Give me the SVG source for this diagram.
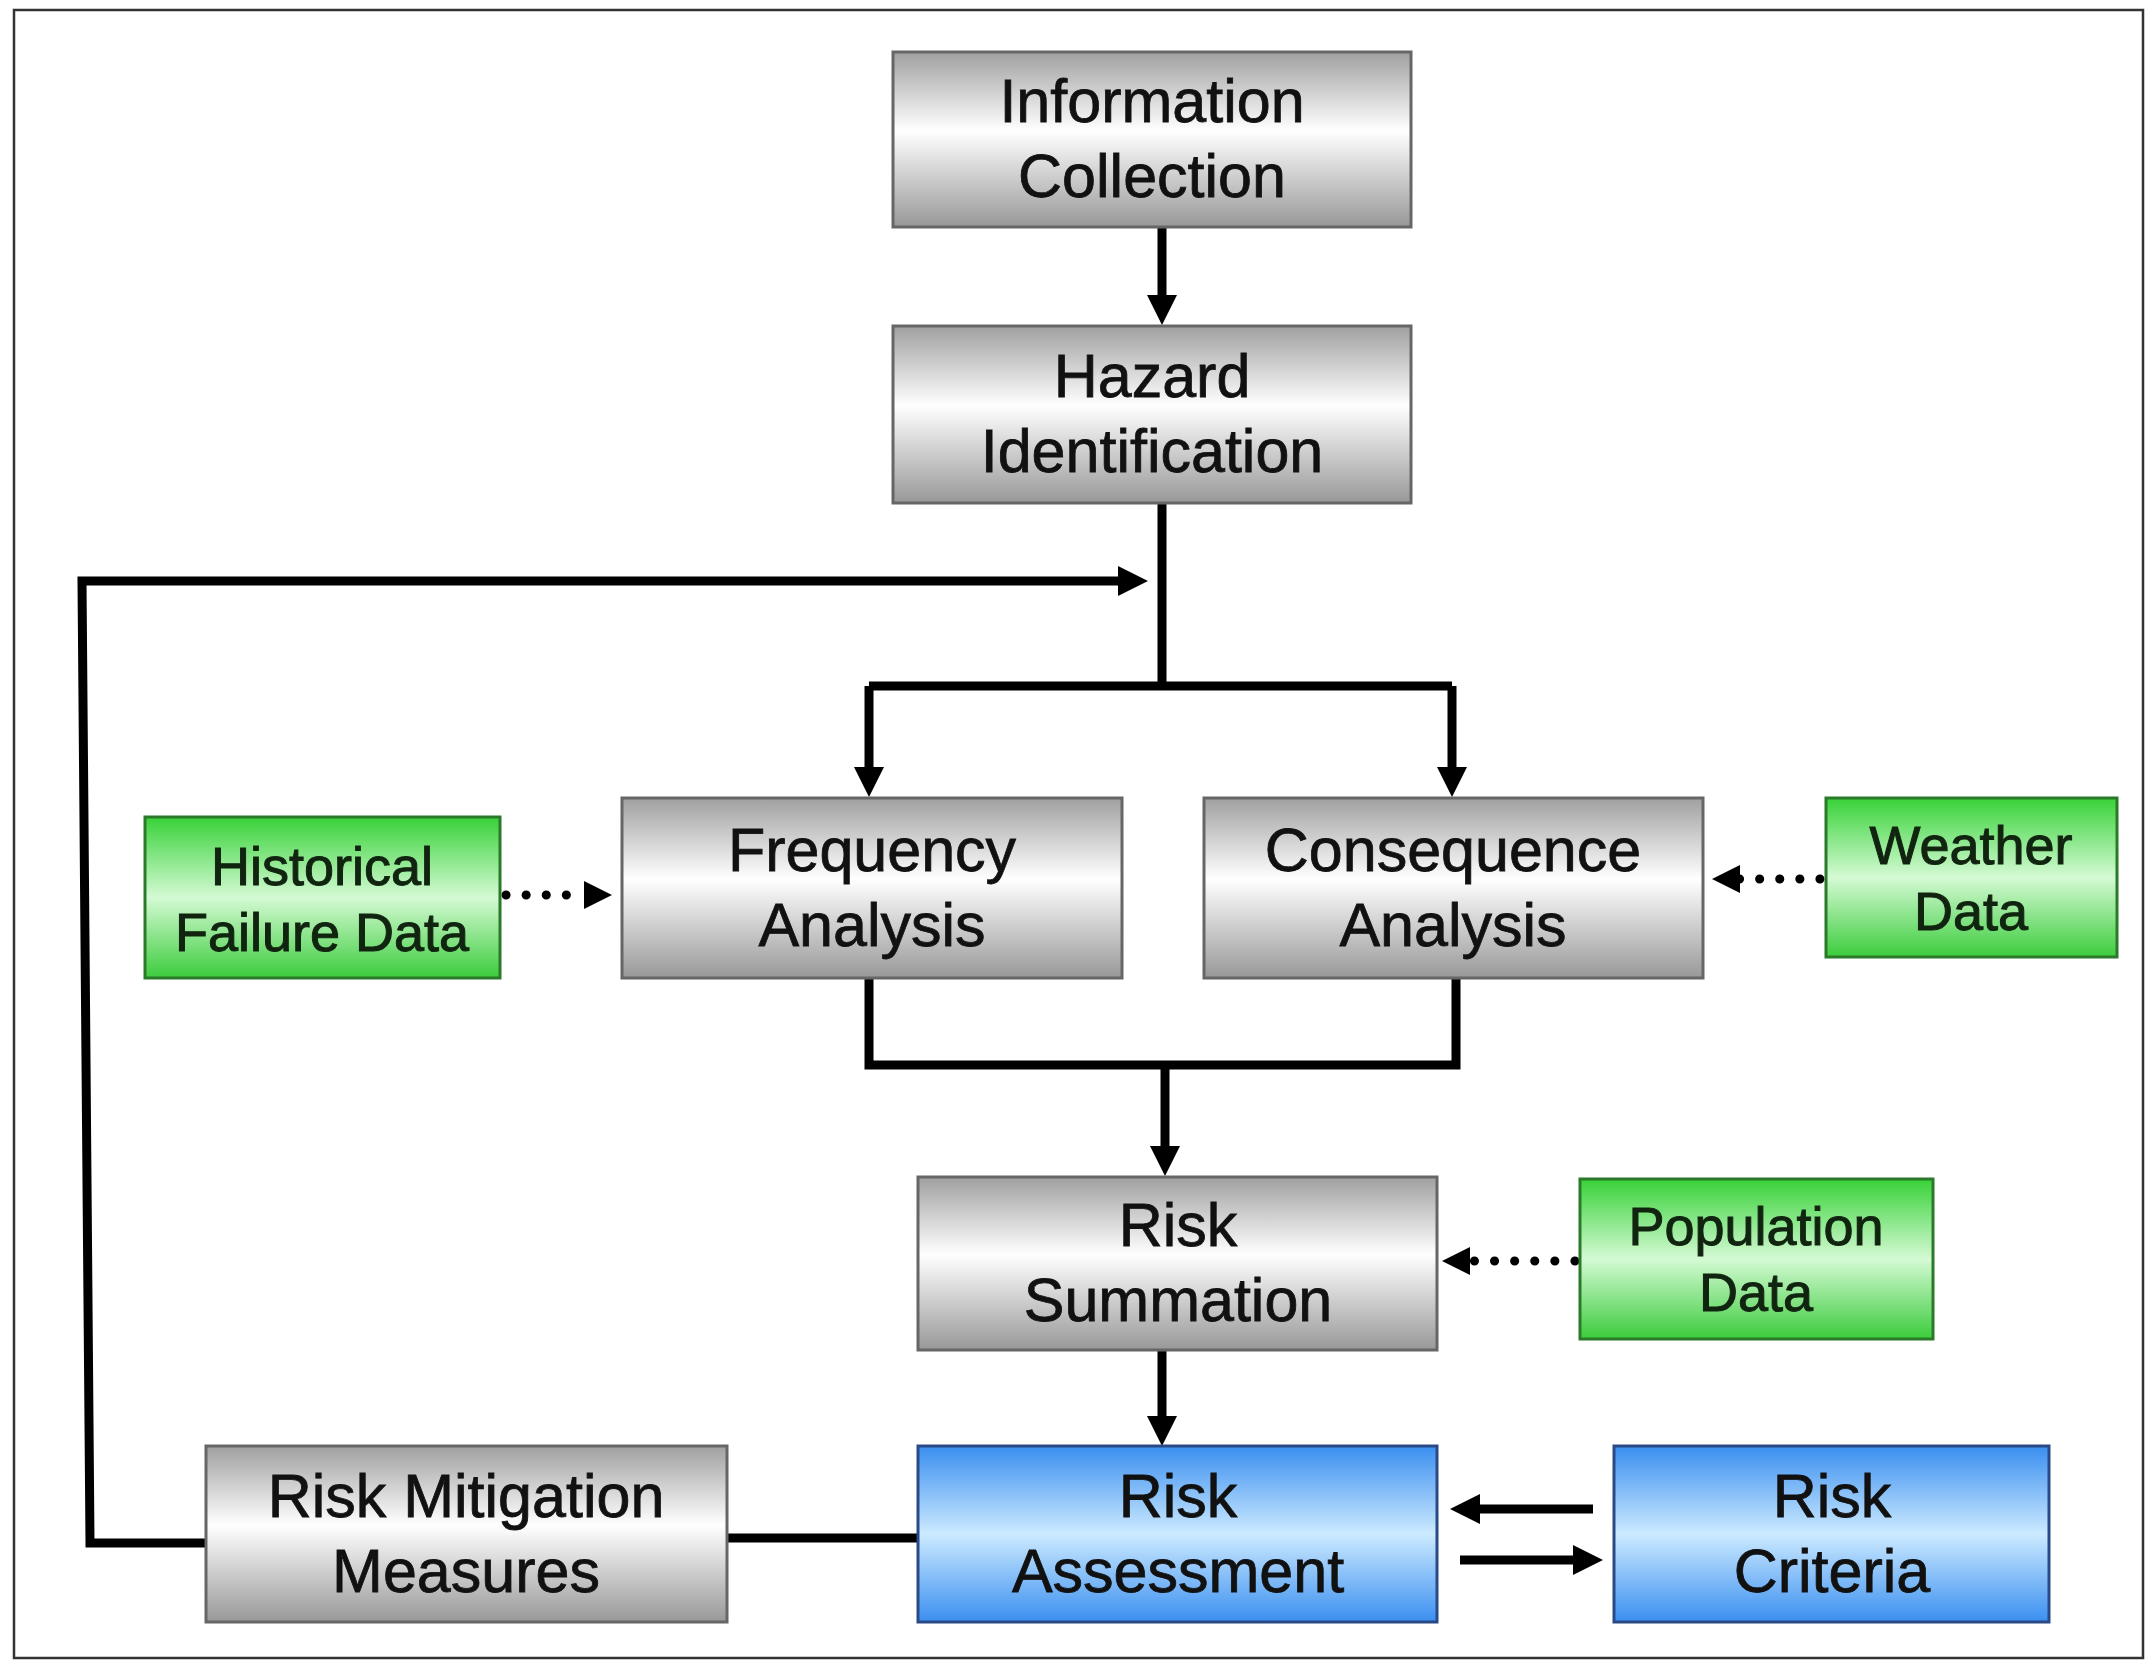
<svg xmlns="http://www.w3.org/2000/svg" width="2154" height="1664" viewBox="0 0 2154 1664">
<style>
.t{font-family:"Liberation Sans",Arial,sans-serif;font-size:61px;fill:#111;stroke:#111;stroke-width:0.8;text-anchor:middle}
.tg{font-family:"Liberation Sans",Arial,sans-serif;font-size:54px;fill:#102410;stroke:#102410;stroke-width:1;text-anchor:middle}
.gray{fill:url(#gGray);stroke:#666;stroke-width:3}
.green{fill:url(#gGreen);stroke:#2a7a2a;stroke-width:3}
.blue{fill:url(#gBlue);stroke:#2a4a86;stroke-width:3}
.ln{fill:none;stroke:#000;stroke-width:9;stroke-linejoin:miter}
.dot{fill:none;stroke:#000;stroke-width:9;stroke-linecap:round;stroke-dasharray:0.1 20}
</style>
<defs>
<linearGradient id="gGray" x1="0" y1="0" x2="0" y2="1">
<stop offset="0" stop-color="#a0a0a0"/><stop offset="0.45" stop-color="#ffffff"/><stop offset="1" stop-color="#989898"/>
</linearGradient>
<linearGradient id="gGreen" x1="0" y1="0" x2="0" y2="1">
<stop offset="0" stop-color="#38d238"/><stop offset="0.5" stop-color="#d4fad4"/><stop offset="1" stop-color="#3ccc3c"/>
</linearGradient>
<linearGradient id="gBlue" x1="0" y1="0" x2="0" y2="1">
<stop offset="0" stop-color="#3a8ff0"/><stop offset="0.5" stop-color="#cceaff"/><stop offset="1" stop-color="#3a8ff0"/>
</linearGradient>
<marker id="ah" markerUnits="userSpaceOnUse" markerWidth="34" markerHeight="34" viewBox="0 -17 34 34" refX="2" refY="0" orient="auto">
<path d="M0,-15 L30,0 L0,15 z" fill="#000"/>
</marker>
<marker id="ahd" markerUnits="userSpaceOnUse" markerWidth="34" markerHeight="34" viewBox="0 -17 34 34" refX="2" refY="0" orient="auto">
<path d="M0,-14 L28,0 L0,14 z" fill="#000"/>
</marker>
</defs>
<rect x="0" y="0" width="2154" height="1664" fill="#fff"/>
<rect id="frame" x="14" y="10" width="2129" height="1648" fill="none" stroke="#333" stroke-width="2.5"/>

<g id="connectors">
<path class="ln" d="M1162,227 V297" marker-end="url(#ah)"/>
<path class="ln" d="M1162,503 V686"/>
<path class="ln" d="M869,686 H1452" stroke-width="10"/>
<path class="ln" d="M869,686 V769" marker-end="url(#ah)"/>
<path class="ln" d="M1452,686 V769" marker-end="url(#ah)"/>
<path class="ln" d="M206,1543 H90 L82,581 H1120" marker-end="url(#ah)"/>
<path class="ln" d="M869,978 V1065 H1456 V978"/>
<path class="ln" d="M1165,1065 V1148" marker-end="url(#ah)"/>
<path class="ln" d="M1162,1350 V1418" marker-end="url(#ah)"/>
<path class="ln" d="M727,1538 H918"/>
<path class="ln" d="M1593,1509 H1478" marker-end="url(#ah)"/>
<path class="ln" d="M1460,1560 H1575" marker-end="url(#ah)"/>
<path class="dot" d="M506,895 H586" marker-end="url(#ahd)"/>
<path class="dot" d="M1820,879 H1738" marker-end="url(#ahd)"/>
<path class="dot" d="M1575,1261 H1468" marker-end="url(#ahd)"/>
</g>

<g id="info-collection">
<rect class="gray" x="893" y="52" width="518" height="175"/>
<text class="t" x="1152" y="122">Information</text>
<text class="t" x="1152" y="197">Collection</text>
</g>
<g id="hazard-identification">
<rect class="gray" x="893" y="326" width="518" height="177"/>
<text class="t" x="1152" y="397">Hazard</text>
<text class="t" x="1152" y="472">Identification</text>
</g>
<g id="historical-failure-data">
<rect class="green" x="145" y="817" width="355" height="161"/>
<text class="tg" x="322" y="885">Historical</text>
<text class="tg" x="322" y="951">Failure Data</text>
</g>
<g id="frequency-analysis">
<rect class="gray" x="622" y="798" width="500" height="180"/>
<text class="t" x="872" y="871">Frequency</text>
<text class="t" x="872" y="946">Analysis</text>
</g>
<g id="consequence-analysis">
<rect class="gray" x="1204" y="798" width="499" height="180"/>
<text class="t" x="1453" y="871">Consequence</text>
<text class="t" x="1453" y="946">Analysis</text>
</g>
<g id="weather-data">
<rect class="green" x="1826" y="798" width="291" height="159"/>
<text class="tg" x="1971" y="864">Weather</text>
<text class="tg" x="1971" y="930">Data</text>
</g>
<g id="risk-summation">
<rect class="gray" x="918" y="1177" width="519" height="173"/>
<text class="t" x="1178" y="1246">Risk</text>
<text class="t" x="1178" y="1321">Summation</text>
</g>
<g id="population-data">
<rect class="green" x="1580" y="1179" width="353" height="160"/>
<text class="tg" x="1756" y="1245">Population</text>
<text class="tg" x="1756" y="1311">Data</text>
</g>
<g id="risk-mitigation-measures">
<rect class="gray" x="206" y="1446" width="521" height="176"/>
<text class="t" x="466" y="1517">Risk Mitigation</text>
<text class="t" x="466" y="1592">Measures</text>
</g>
<g id="risk-assessment">
<rect class="blue" x="918" y="1446" width="519" height="176"/>
<text class="t" x="1178" y="1517">Risk</text>
<text class="t" x="1178" y="1592">Assessment</text>
</g>
<g id="risk-criteria">
<rect class="blue" x="1614" y="1446" width="435" height="176"/>
<text class="t" x="1832" y="1517">Risk</text>
<text class="t" x="1832" y="1592">Criteria</text>
</g>
</svg>
